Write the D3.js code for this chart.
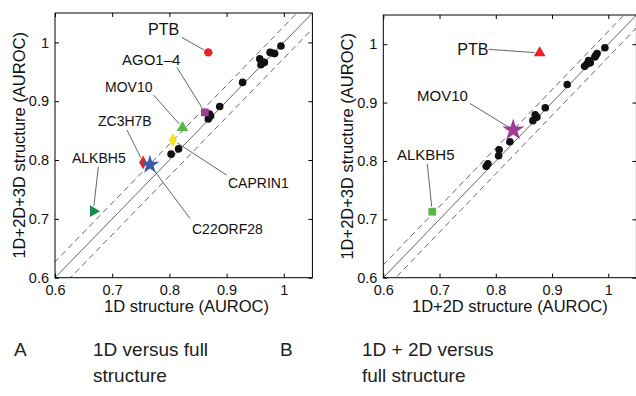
<!DOCTYPE html>
<html>
<head>
<meta charset="utf-8">
<script src="https://cdn.jsdelivr.net/npm/d3@7/dist/d3.min.js"></script>
<style>
  html, body { margin: 0; padding: 0; background: #fff; }
  svg { display: block; font-family: "Liberation Sans", Arial, Helvetica, sans-serif; }
</style>
</head>
<body>
<svg id="chart" width="636" height="396"></svg>
<script>
// ---------- data ----------
const tickValues = [0.6, 0.7, 0.8, 0.9, 1];
const tickLabels = ["0.6", "0.7", "0.8", "0.9", "1"];

// Panel A: 1D (x) vs 1D+2D+3D (y)
const aBlackX = [0.995, 0.976, 0.980, 0.984, 0.958, 0.962, 0.966, 0.960, 0.928, 0.888, 0.868, 0.872, 0.870, 0.816, 0.803];
const aBlackY = [0.994, 0.983, 0.982, 0.981, 0.972, 0.965, 0.966, 0.962, 0.932, 0.891, 0.870, 0.875, 0.878, 0.819, 0.810];
const aNames  = ["PTB", "AGO1\u20134", "MOV10", "CAPRIN1", "ZC3H7B", "C22ORF28", "ALKBH5"];
const aX      = [0.868, 0.862, 0.823, 0.806, 0.754, 0.766, 0.667];
const aY      = [0.983, 0.881, 0.855, 0.834, 0.796, 0.792, 0.713];

// Panel B: 1D+2D (x) vs 1D+2D+3D (y)
const bBlackX = [0.994, 0.978, 0.980, 0.976, 0.965, 0.962, 0.958, 0.968, 0.927, 0.888, 0.870, 0.873, 0.866, 0.825, 0.806, 0.805, 0.786, 0.783];
const bBlackY = [0.994, 0.981, 0.984, 0.978, 0.972, 0.966, 0.962, 0.968, 0.931, 0.891, 0.879, 0.875, 0.869, 0.833, 0.819, 0.809, 0.795, 0.791];
const bNames  = ["PTB", "MOV10", "ALKBH5"];
const bX      = [0.878, 0.831, 0.687];
const bY      = [0.985, 0.853, 0.713];

// ---------- styles / layout ----------
const styleA = {
  "PTB":       {shape: "circle",   color: "#e8212b", size: 55, fs: 16},
  "AGO1\u20134":{shape: "square",  color: "#9c3e95", size: 60, fs: 15},
  "MOV10":     {shape: "triangle", color: "#5cb646", size: 60, fs: 14},
  "CAPRIN1":   {shape: "diamond",  color: "#f4e61b", size: 55, fs: 14},
  "ZC3H7B":    {shape: "diamond",  color: "#e2262c", size: 55, fs: 14},
  "C22ORF28":  {shape: "star",     color: "#3c5ca9", size: 110, fs: 14},
  "ALKBH5":    {shape: "triRight", color: "#168a4a", size: 60, fs: 14}
};
const styleB = {
  "PTB":    {shape: "triangle", color: "#e8212b", size: 60, fs: 16},
  "MOV10":  {shape: "star",     color: "#9c3e95", size: 150, fs: 15},
  "ALKBH5": {shape: "square",   color: "#5cb646", size: 60, fs: 15}
};
// label text position and leader start (pixels)
const labA = {
  "PTB":       {tx: 148, ty: 34.5, lx: 182, ly: 37.5},
  "AGO1\u20134":{tx: 122, ty: 65,  lx: 177, ly: 67.5},
  "MOV10":     {tx: 105, ty: 92,   lx: 153.5, ly: 95},
  "ZC3H7B":    {tx: 98,  ty: 126,  lx: 127, ly: 130},
  "CAPRIN1":   {tx: 228, ty: 187.5,lx: 226.5, ly: 175},
  "C22ORF28":  {tx: 192, ty: 233.5,lx: 190, ly: 218.5},
  "ALKBH5":    {tx: 72,  ty: 163,  lx: 98.3, ly: 167}
};
const labB = {
  "PTB":    {tx: 457.3, ty: 55,  lx: 488.5, ly: 49.3},
  "MOV10":  {tx: 417,   ty: 100.5, lx: 470, ly: 103.5},
  "ALKBH5": {tx: 397,   ty: 160, lx: 427.3, ly: 164}
};

const svg = d3.select("#chart");

function symbolPath(shape, size) {
  const map = {
    circle: d3.symbolCircle, square: d3.symbolSquare, triangle: d3.symbolTriangle,
    diamond: d3.symbolDiamond, star: d3.symbolStar, triRight: d3.symbolTriangle
  };
  return d3.symbol().type(map[shape]).size(size)();
}

function panel(cfg) {
  const x = d3.scaleLinear().domain([0.6, 1.05]).range([cfg.x0, cfg.x1]);
  const y = d3.scaleLinear().domain([0.6, 1.05]).range([cfg.y0, cfg.y1]);
  const g = svg.append("g");
  const clipId = "clip" + cfg.id;
  g.append("clipPath").attr("id", clipId).append("rect")
    .attr("x", cfg.x0).attr("y", cfg.y1).attr("width", cfg.x1 - cfg.x0).attr("height", cfg.y0 - cfg.y1);

  // diagonal lines
  const dg = g.append("g").attr("clip-path", `url(#${clipId})`);
  const diag = (off, dash) => {
    dg.append("line")
      .attr("x1", x(0.55)).attr("y1", y(0.55 + off))
      .attr("x2", x(1.1)).attr("y2", y(1.1 + off))
      .attr("stroke", "#555").attr("stroke-width", 0.9)
      .attr("stroke-dasharray", dash ? "6,4" : null);
  };
  diag(0, false);
  diag(cfg.band, true);
  diag(-cfg.band, true);

  // axes (inside ticks, mirrored)
  const tl = 4;
  const axB = d3.axisBottom(x).tickValues(tickValues).tickSizeInner(-tl).tickSizeOuter(0)
    .tickPadding(7).tickFormat((d, i) => tickLabels[i]);
  const axL = d3.axisLeft(y).tickValues(tickValues).tickSizeInner(-tl).tickSizeOuter(0)
    .tickPadding(6).tickFormat((d, i) => tickLabels[i]);
  const axT = d3.axisTop(x).tickValues(tickValues).tickSizeInner(-tl).tickSizeOuter(0).tickFormat("");
  const axR = d3.axisRight(y).tickValues(tickValues).tickSizeInner(-tl).tickSizeOuter(0).tickFormat("");

  const styleAxis = s => {
    s.select(".domain").remove();
    s.selectAll("line").attr("stroke", "#000").attr("stroke-width", 1);
    s.selectAll("text").attr("fill", "#111").style("font-size", "14.5px")
      .style("font-family", '"Liberation Sans", Arial, Helvetica, sans-serif');
  };
  g.append("g").attr("transform", `translate(0,${cfg.y0})`).call(axB).call(styleAxis);
  g.append("g").attr("transform", `translate(${cfg.x0},0)`).call(axL).call(styleAxis);
  g.append("g").attr("transform", `translate(0,${cfg.y1})`).call(axT).call(styleAxis);
  g.append("g").attr("transform", `translate(${cfg.x1},0)`).call(axR).call(styleAxis);

  g.append("rect").attr("x", cfg.x0).attr("y", cfg.y1)
    .attr("width", cfg.x1 - cfg.x0).attr("height", cfg.y0 - cfg.y1)
    .attr("fill", "none").attr("stroke", "#000").attr("stroke-width", 1);

  // black points
  g.selectAll(".blk").data(d3.range(cfg.bx.length)).enter().append("circle")
    .attr("cx", i => x(cfg.bx[i])).attr("cy", i => y(cfg.by[i])).attr("r", 3.8).attr("fill", "#111");

  // leader lines
  cfg.names.forEach((n, i) => {
    const L = cfg.lab[n];
    const px = x(cfg.nx[i]), py = y(cfg.ny[i]);
    const dx = px - L.lx, dy = py - L.ly, len = Math.hypot(dx, dy);
    const gap = 5;
    g.append("line").attr("x1", L.lx).attr("y1", L.ly)
      .attr("x2", px - dx / len * gap).attr("y2", py - dy / len * gap)
      .attr("stroke", "#555").attr("stroke-width", 0.9);
  });
  // labelled markers
  cfg.names.forEach((n, i) => {
    const s = cfg.style[n];
    const rot = s.shape === "triRight" ? 90 : 0;
    g.append("path").attr("d", symbolPath(s.shape, s.size))
      .attr("transform", `translate(${x(cfg.nx[i])},${y(cfg.ny[i])}) rotate(${rot})`)
      .attr("fill", s.color);
    const L = cfg.lab[n];
    g.append("text").attr("x", L.tx).attr("y", L.ty).text(n)
      .attr("fill", "#111").style("font-size", s.fs + "px");
  });

  // axis titles
  g.append("text").attr("x", (cfg.x0 + cfg.x1tit) / 2).attr("y", 312)
    .attr("text-anchor", "middle").style("font-size", "16.5px").attr("fill", "#111").text(cfg.xtitle);
  g.append("text").attr("transform", `translate(${cfg.x0 - 30},${(cfg.y0 + cfg.y1) / 2}) rotate(-90)`)
    .attr("text-anchor", "middle").style("font-size", "16.5px").attr("fill", "#111").text(cfg.ytitle);
}

panel({id: "A", x0: 55, x1: 312.4, x1tit: 318, y0: 277.7, y1: 13, band: 0.027,
  bx: aBlackX, by: aBlackY, names: aNames, nx: aX, ny: aY, style: styleA, lab: labA,
  xtitle: "1D structure (AUROC)", ytitle: "1D+2D+3D structure (AUROC)"});
panel({id: "B", x0: 383.3, x1: 636.4, x1tit: 636.4, y0: 277.7, y1: 15, band: 0.022,
  bx: bBlackX, by: bBlackY, names: bNames, nx: bX, ny: bY, style: styleB, lab: labB,
  xtitle: "1D+2D structure (AUROC)", ytitle: "1D+2D+3D structure (AUROC)"});

// captions
const cap = [
  {t: "A", x: 14, y: 356}, {t: "1D versus full", x: 93, y: 356}, {t: "structure", x: 93, y: 382},
  {t: "B", x: 280, y: 356}, {t: "1D + 2D versus", x: 362, y: 356}, {t: "full structure", x: 362, y: 382}
];
svg.selectAll(".cap").data(cap).enter().append("text")
  .attr("x", d => d.x).attr("y", d => d.y).text(d => d.t)
  .style("font-size", "19px").attr("fill", "#222");
</script>
</body>
</html>
